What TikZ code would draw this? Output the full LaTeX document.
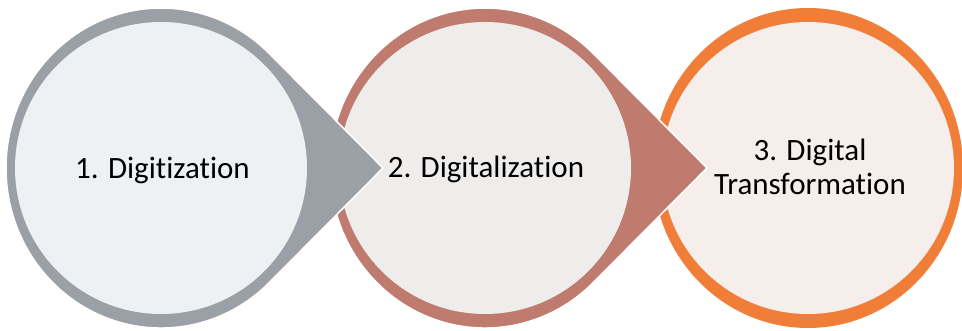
\documentclass[tikz,border=0pt]{standalone}
\usepackage{fontspec}
\setmainfont[Ligatures=NoCommon]{Carlito}
\definecolor{ringA}{HTML}{9AA0A5}
\definecolor{fillA}{HTML}{EEF1F3}
\definecolor{ringB}{HTML}{C07B6F}
\definecolor{fillB}{HTML}{EFEDEC}
\definecolor{ringC}{HTML}{F07E39}
\definecolor{fillC}{HTML}{F6EEEA}
\begin{document}
\begin{tikzpicture}[x=1pt,y=1pt,
  drop/.style={draw=white,line width=1.5pt,line join=miter},
  label/.style={font=\fontsize{31}{34.5}\selectfont,text=black,inner sep=0pt}]
\useasboundingbox (0,0) rectangle (962,331);
\fill[white] (0,0) rectangle (962,331);
% step 3: plain ring
\fill[ringC] (808,163) ellipse[x radius=155pt,y radius=160pt];
\fill[fillC] (808,163) circle[radius=146pt];
% step 2: ring with pointer
\fill[ringB,drop] (707,163) -- (593.2,277.5)
  arc[start angle=45.72,end angle=314.28,x radius=155pt,y radius=160pt] -- cycle;
\fill[fillB] (485,163) circle[radius=146pt];
% step 1: ring with pointer
\fill[ringA,drop] (383,163) -- (269.2,277.5)
  arc[start angle=45.72,end angle=314.28,x radius=155pt,y radius=160pt] -- cycle;
\fill[fillA] (161,163) circle[radius=146pt];
% labels
\node[label,anchor=base] (t1) at (162.5,152.7) {1. Digitization};
\node[label,anchor=base] (t2) at (486,153) {2. Digitalization};
\node[label,anchor=base] (t3a) at (810,170.3) {3. Digital};
\node[label,anchor=base] (t3b) at (810,136) {Transformation};
\end{tikzpicture}
\end{document}
